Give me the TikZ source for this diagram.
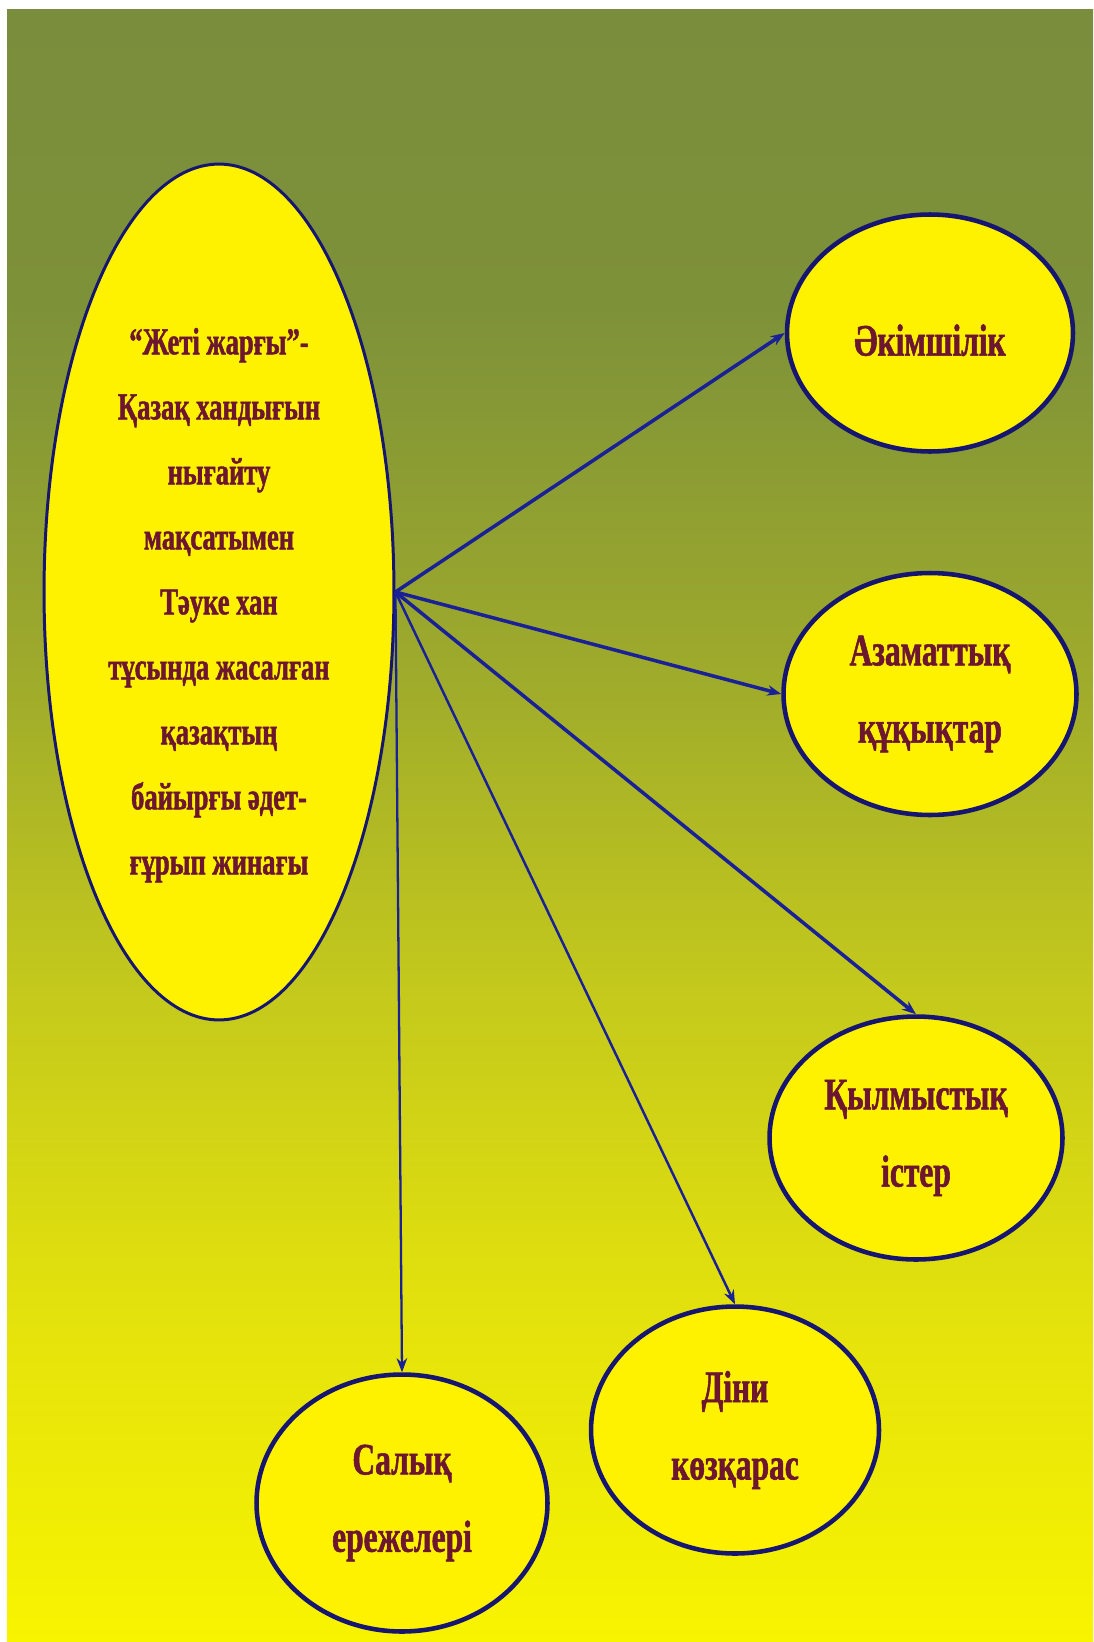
\documentclass[tikz,border=0pt]{standalone}
\usepackage{fontspec}
\setmainfont{Liberation Serif}[FakeStretch=0.7, BoldFeatures={FakeBold=1.2}]
\usetikzlibrary{shapes.geometric,arrows.meta}
\definecolor{textred}{RGB}{108,22,48}
\definecolor{rimblue}{RGB}{22,22,112}
\definecolor{arrowblue}{RGB}{26,32,150}
\definecolor{topgreen}{RGB}{122,141,60}
\definecolor{upgreen}{RGB}{125,145,57}
\definecolor{midolive}{RGB}{157,170,44}
\definecolor{lowolive}{RGB}{196,201,28}
\definecolor{lowyellow}{RGB}{228,226,12}
\definecolor{botyellow}{RGB}{248,244,0}
\pgfdeclareverticalshading{backdrop}{100bp}{color(0bp)=(botyellow); color(25bp)=(botyellow); color(35bp)=(lowyellow); color(45bp)=(lowolive); color(55bp)=(midolive); color(66bp)=(upgreen); color(75bp)=(topgreen); color(100bp)=(topgreen)}
\begin{document}
\begin{tikzpicture}[x=0.02cm, y=0.02cm]
                        \tikzstyle{every node}+=[inner sep=0pt]
                        \tikzstyle{topic}=[ellipse, draw=rimblue, line width=2.6pt, fill=yellow, text=textred, align=center, font=\bfseries\fontsize{25.6}{44}\selectfont, execute at begin node={\rule{0pt}{26pt}}]
                        \tikzstyle{link}=[arrowblue, line width=2pt, -{Stealth[length=8pt,width=6pt]}]
                        \useasboundingbox (0,0) rectangle (1093,-1642);
                        \fill [white] (0,0) rectangle (1093,-1642);
                        \shade [shading=backdrop] (7,-10) rectangle (1093,-1642);
                        \node [topic, line width=1.7pt, minimum width=7cm, minimum height=17.12cm, font=\bfseries\fontsize{21.6}{37}\selectfont] (code) at (219,-592) {\rule{0pt}{30pt}“Жеті жарғы”-\\Қазақ хандығын\\нығайту\\мақсатымен\\Тәуке хан\\тұсында жасалған\\қазақтың\\байырғы әдет-\\ғұрып жинағы};
                        \node [topic, minimum width=5.72cm, minimum height=4.74cm] (admin) at (930,-333) {Әкімшілік};
                        \node [topic, minimum width=5.86cm, minimum height=4.84cm] (civil) at (930,-694) {Азаматтық\\құқықтар};
                        \node [topic, minimum width=5.86cm, minimum height=4.86cm] (crime) at (916,-1138) {Қылмыстық\\істер};
                        \node [topic, minimum width=5.76cm, minimum height=4.94cm] (faith) at (735,-1430) {Діни\\көзқарас};
                        \node [topic, minimum width=5.82cm, minimum height=5.14cm] (tax) at (402,-1503) {Салық\\ережелері};
                        \draw [link] (code.east) -- (admin.west);
                        \draw [link] (code.east) -- (civil.west);
                        \draw [link] (code.east) -- (crime.north);
                        \draw [link, line width=1.4pt] (code.east) -- (faith.north);
                        \draw [link, line width=1.3pt] (code.east) -- (tax.north);
\end{tikzpicture}
\end{document}
